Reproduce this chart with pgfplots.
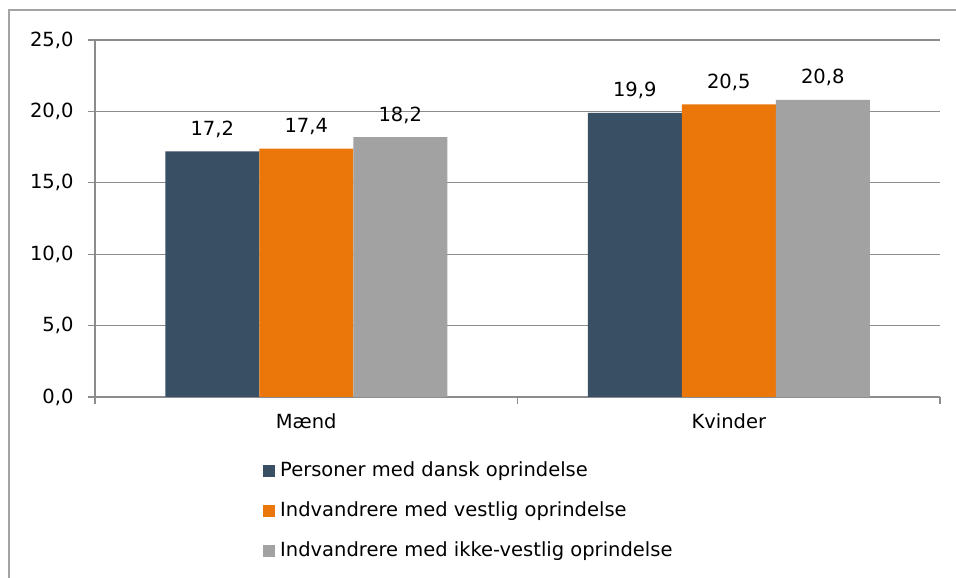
\documentclass[border=0pt]{standalone}
\usepackage{fontspec}
\setmainfont{DejaVu Sans}
\usepackage{pgfplots}
\pgfplotsset{compat=1.18}

\definecolor{cdark}{HTML}{384F64}
\definecolor{corange}{HTML}{EB760A}
\definecolor{cgrey}{HTML}{A2A2A2}
\definecolor{cline}{HTML}{8C8C8C}

\begin{document}
\begin{tikzpicture}[font=\fontsize{19.5}{23}\selectfont]
\useasboundingbox (0,0) rectangle (956pt,578pt);
% outer chart frame (cut by the page edge)
\draw[cline!80, line width=1.5pt] (9pt,-5pt) -- (9pt,568pt) -- (960pt,568pt);
\begin{axis}[
    at={(95pt,181pt)}, anchor=south west,
    scale only axis, width=845pt, height=357pt,
    ybar=0pt, bar width=94pt,
    xmin=-0.5, xmax=1.5, ymin=0, ymax=25,
    ytick={0,5,10,15,20,25},
    yticklabel style={xshift=-11pt},
    xtick={-0.5,0.5,1.5}, xticklabels={},
    extra x ticks={0,1}, extra x tick labels={Mænd,Kvinder},
    extra x tick style={grid=none, major tick length=0pt,
        xticklabel style={yshift=-13pt}},
    axis x line*=bottom, axis y line*=left,
    tick align=outside, major tick length=7pt,
    tick style={cline, line width=1.2pt},
    ymajorgrids, grid style={cline, line width=1.2pt},
    axis line style={cline, line width=1.5pt},
    /pgf/number format/.cd, use comma, fixed, fixed zerofill, precision=1, assume math mode=true,
    /pgfplots/.cd,
    nodes near coords,
    every node near coord/.append style={anchor=base, yshift=16pt, text=black},
    legend style={at={(0.1988,-0.179)}, anchor=north west, draw=none, fill=none,
        inner sep=0pt, row sep=20pt, column sep=5pt,
        nodes={inner sep=0pt, text height=15pt, text depth=5pt}},
    legend cell align=left,
    legend image code/.code={\fill[#1] (0pt,-6pt) rectangle (12pt,6pt);},
]
\addplot[fill=cdark, draw=none] coordinates {(0,17.2) (1,19.9)};
\addplot[fill=corange, draw=none] coordinates {(0,17.4) (1,20.5)};
\addplot[fill=cgrey, draw=none] coordinates {(0,18.2) (1,20.8)};
\legend{Personer med dansk oprindelse, Indvandrere med vestlig oprindelse, Indvandrere med ikke-vestlig oprindelse}
\end{axis}
\end{tikzpicture}
\end{document}
